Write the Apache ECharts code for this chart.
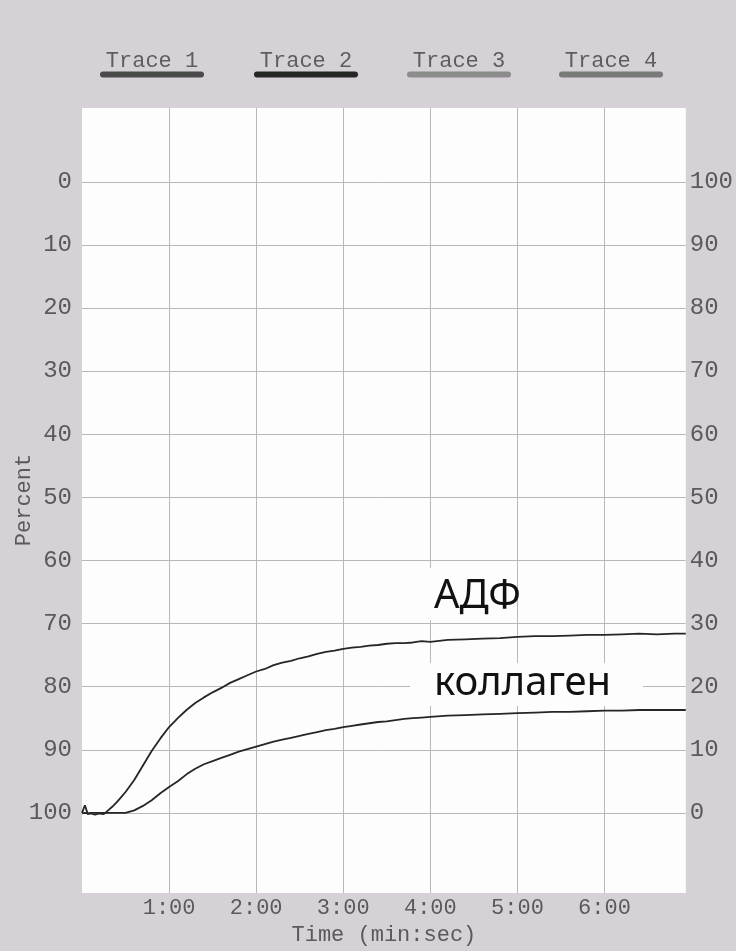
<!DOCTYPE html>
<html>
<head>
<meta charset="utf-8">
<script src="https://cdn.jsdelivr.net/npm/echarts@6/dist/echarts.min.js"></script>
<style>
  html, body { margin: 0; padding: 0; background: #d6d1d7; }
  #chart { width: 736px; height: 951px; }
</style>
</head>
<body>
<div id="chart"></div>
<script>
// time in seconds, values in percent (left axis, inverted)
const timeSec = [0, 2, 4, 6, 9, 12, 15, 18, 21, 24, 27, 30,
  36, 42, 48, 54, 60, 66, 72, 78, 84, 90, 96, 102, 108, 114, 120, 126, 132, 138, 144, 150,
  156, 162, 168, 174, 180, 186, 192, 198, 204, 210, 216, 222, 228, 234, 240,
  252, 264, 276, 288, 300, 312, 324, 336, 348, 360, 372, 384, 396, 408, 416];

const adfPct = [100.0, 98.8, 100.2, 100.1, 100.3, 100.1, 100.2, 99.6, 99.0, 98.3, 97.5, 96.7,
  94.8, 92.5, 90.2, 88.2, 86.4, 85.0, 83.7, 82.6, 81.7, 80.9, 80.2, 79.4, 78.8, 78.2, 77.6, 77.2, 76.6, 76.2, 75.9, 75.5,
  75.2, 74.8, 74.5, 74.3, 74.0, 73.8, 73.7, 73.5, 73.4, 73.2, 73.1, 73.1, 73.0, 72.8, 72.9,
  72.6, 72.5, 72.4, 72.3, 72.1, 72.0, 72.0, 71.9, 71.8, 71.8, 71.7, 71.6, 71.7, 71.6, 71.6];

const collagenPct = [100.1, 100.0, 100.1, 100.0, 100.0, 100.0, 100.0, 100.0, 100.0, 100.0, 100.0, 100.0,
  99.6, 98.9, 98.0, 96.9, 95.9, 95.0, 93.9, 93.0, 92.3, 91.8, 91.3, 90.8, 90.3, 89.9, 89.5, 89.1, 88.7, 88.4, 88.1, 87.8,
  87.5, 87.2, 86.9, 86.7, 86.4, 86.2, 86.0, 85.8, 85.6, 85.5, 85.3, 85.1, 85.0, 84.9, 84.8,
  84.6, 84.5, 84.4, 84.3, 84.2, 84.1, 84.0, 84.0, 83.9, 83.8, 83.8, 83.7, 83.7, 83.7, 83.7];

const xTickSec = [60, 120, 180, 240, 300, 360];
const yTickPct = [0, 10, 20, 30, 40, 50, 60, 70, 80, 90, 100];

const legendNames = ['Trace 1', 'Trace 2', 'Trace 3', 'Trace 4'];
const legendColors = ['#4a4a4a', '#262626', '#8c8c8c', '#7a7a7a'];

const monoFont = '"Liberation Mono", "DejaVu Sans Mono", monospace';
const labelColor = '#5a5a5a';
const gridColor = '#b8b8b8';
const plotBg = '#fdfdfd';

const chart = echarts.init(document.getElementById('chart'));

const fmtTime = (v) => Math.floor(v / 60) + ':' + String(v % 60).padStart(2, '0');

// hand-drawn legend: text with a bar underneath
const legendGraphic = [];
const legendX = [152, 306, 459, 611];
legendNames.forEach((name, i) => {
  legendGraphic.push({
    type: 'text', x: legendX[i], y: 61,
    style: { text: name, font: '22px ' + monoFont, fill: '#5e5e5e', textAlign: 'center', textVerticalAlign: 'middle' },
  });
  legendGraphic.push({
    type: 'rect', shape: { x: legendX[i] - 52, y: 71.5, width: 104, height: 6, r: 3 },
    style: { fill: legendColors[i] },
  });
});

// white label boxes over the plot
const noteGraphic = [
  { type: 'rect', shape: { x: 378, y: 568, width: 138, height: 52 }, style: { fill: plotBg }, z: 10 },
  { type: 'text', x: 434, y: 597, z: 11,
    style: { text: 'АДФ', font: '40px "Noto Sans", "Open Sans", sans-serif', fill: '#111', textVerticalAlign: 'middle' } },
  { type: 'rect', shape: { x: 410, y: 663, width: 233, height: 43 }, style: { fill: plotBg }, z: 10 },
  { type: 'text', x: 434, y: 684, z: 11,
    style: { text: 'коллаген', font: '40px "Noto Sans", "Open Sans", sans-serif', fill: '#111', textVerticalAlign: 'middle' } },
  { type: 'text', x: 24, y: 500, rotation: Math.PI / 2,
    style: { text: 'Percent', font: '22px ' + monoFont, fill: labelColor, textAlign: 'center', textVerticalAlign: 'middle' } },
];

chart.setOption({
  backgroundColor: '#d6d1d7',
  animation: false,
  grid: {
    left: 82, right: 50, top: 108, bottom: 58,
    show: true, backgroundColor: plotBg, borderWidth: 0,
  },
  xAxis: {
    type: 'value',
    min: 0,
    max: 416,
    name: 'Time (min:sec)',
    nameLocation: 'middle',
    nameGap: 28,
    nameTextStyle: { fontFamily: monoFont, fontSize: 22, color: labelColor },
    axisLine: { show: false },
    axisTick: { show: false, customValues: xTickSec },
    axisLabel: {
      customValues: xTickSec,
      formatter: fmtTime,
      fontFamily: monoFont, fontSize: 22, color: labelColor, margin: 4,
    },
    splitLine: { show: true, lineStyle: { color: gridColor, width: 1 } },
  },
  yAxis: [
    {
      type: 'value',
      inverse: true,
      min: -11.7,
      max: 112.7,
      axisLine: { show: false },
      axisTick: { show: false, customValues: yTickPct },
      axisLabel: { customValues: yTickPct, fontFamily: monoFont, fontSize: 24, color: labelColor, margin: 10 },
      splitLine: { show: true, lineStyle: { color: gridColor, width: 1 } },
    },
    {
      type: 'value',
      position: 'right',
      min: -12.7,
      max: 111.7,
      axisLine: { show: false },
      axisTick: { show: false, customValues: yTickPct },
      axisLabel: { customValues: yTickPct, fontFamily: monoFont, fontSize: 24, color: labelColor, margin: 4 },
      splitLine: { show: false },
    },
  ],
  series: [
    {
      name: 'АДФ',
      type: 'line',
      showSymbol: false,
      data: timeSec.map((t, i) => [t, adfPct[i]]),
      lineStyle: { color: '#262626', width: 1.8 },
      z: 5,
    },
    {
      name: 'коллаген',
      type: 'line',
      showSymbol: false,
      data: timeSec.map((t, i) => [t, collagenPct[i]]),
      lineStyle: { color: '#262626', width: 1.8 },
      z: 5,
    },
  ],
  graphic: legendGraphic.concat(noteGraphic),
});
</script>
</body>
</html>
